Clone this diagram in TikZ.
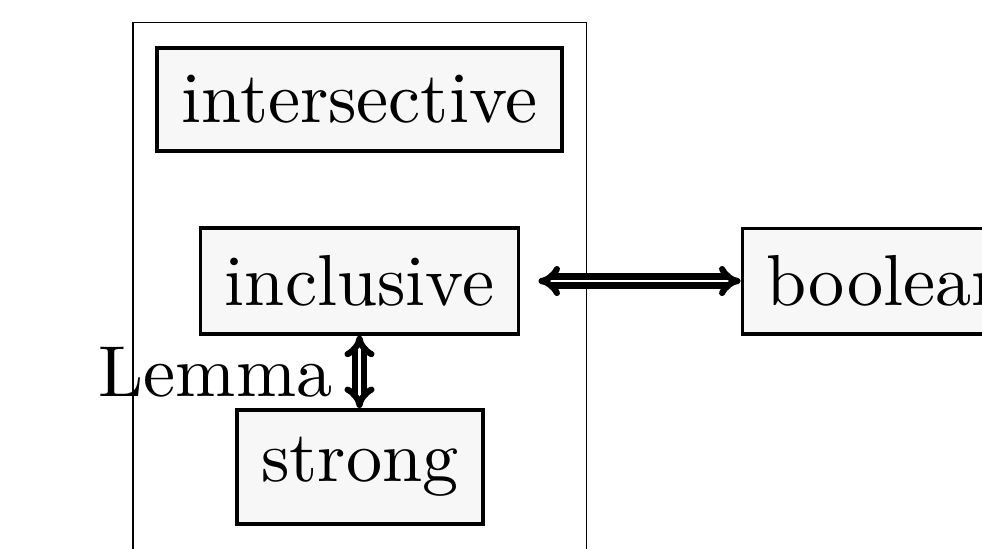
\documentclass[tikz,border=0pt]{standalone}
\usetikzlibrary{arrows.meta}
\begin{document}
\begin{tikzpicture}[x=0.1385pt,y=-0.1385pt,
  box/.style={draw, line width=0.5pt, fill=black!3, inner xsep=3.4pt, inner ysep=3.8pt},
  equiv/.style={double, line width=0.85pt, double distance=0.4pt, {Implies[scale=1.15]}-{Implies[scale=1.15]}}]
\begin{scope}
  \clip (0,0) rectangle (982,549);
  % enclosing frame (runs past the lower edge)
  \draw[line width=0.15pt] (133,22.7) rectangle (586.5,620);
  \node[box, anchor=base] (intersective) at (359.5,122.7) {intersective};
  \node[box, anchor=base] (inclusive) at (359.5,305.7) {inclusive};
  \node[box, anchor=base] (strong) at (360,481.7) {strong};
  \node[box, anchor=base west] (boolean) at (740.5,306) {boolean};
  \draw[equiv, shorten <=2.5pt] (inclusive.east) -- (inclusive.east -| boolean.west);
  \draw[equiv] (inclusive.south) -- node[left] (lemma) {Lemma} (inclusive.south |- strong.north);
\end{scope}
\pgfresetboundingbox
\useasboundingbox (0,0) rectangle (982,549);
\end{tikzpicture}
\end{document}
